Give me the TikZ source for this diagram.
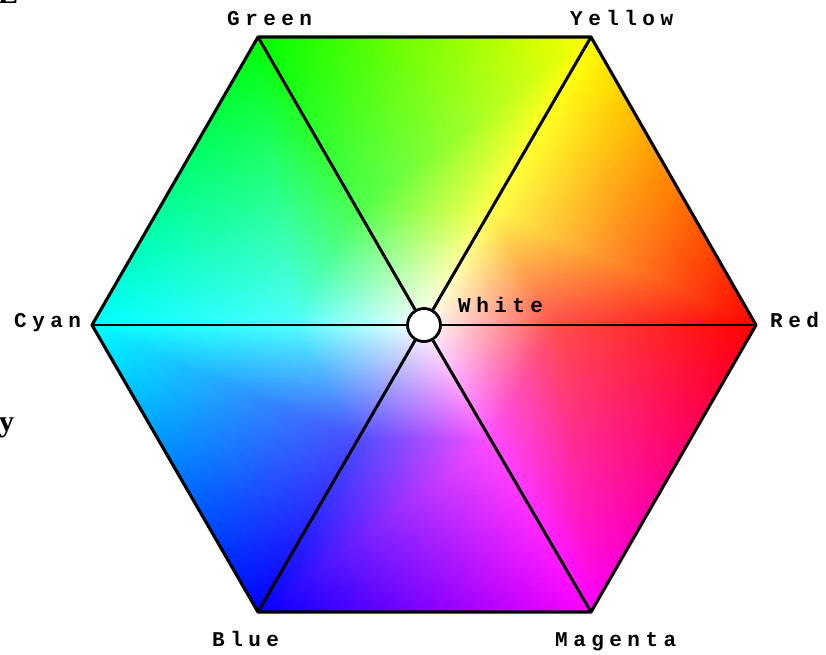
\documentclass[tikz,border=0pt]{standalone}
\usepackage{fontspec}
\usepackage{pgfplots}
\pgfplotsset{compat=1.18}
\newfontfamily\lblfont{Liberation Mono}[LetterSpace=26]
\newfontfamily\serifbold{Liberation Serif}
\tikzset{
  edge/.style={black, line width=3.1pt, line join=round, line cap=round},
  spoke/.style={black, line width=3pt},
  hspoke/.style={black, line width=2.1pt},
  lbl/.style={font=\lblfont\bfseries\fontsize{21}{21}\selectfont, inner sep=0pt, anchor=base west},
  stray/.style={font=\serifbold\bfseries\fontsize{30}{30}\selectfont, inner sep=0pt, anchor=base west},
  hub/.style={circle, draw=black, fill=white, line width=2.8pt, minimum size=33pt, inner sep=0pt}
}
\begin{document}
\begin{tikzpicture}
\useasboundingbox (0,0) rectangle (826pt,-654pt);
\begin{axis}[at={(0pt,0pt)}, anchor=north west, scale only axis,
  width=826pt, height=654pt, xmin=0, xmax=826, ymin=0, ymax=654,
  y dir=reverse, hide axis, clip=false]
\addplot[patch, shader=interp, mesh/color input=explicit] table[meta=c] {
x y c
424 325 rgb=1,1,1
357.6 209.8 rgb=0.3,1,0.3
490.8 209.8 rgb=1,1,0.3
357.6 209.8 rgb=0.3,1,0.3
258 37 rgb=0,1,0
591 37 rgb=1,1,0
357.6 209.8 rgb=0.3,1,0.3
591 37 rgb=1,1,0
490.8 209.8 rgb=1,1,0.3
424 325 rgb=1,1,1
490.8 209.8 rgb=1,1,0.3
556.8 325 rgb=1,0.3,0.3
490.8 209.8 rgb=1,1,0.3
591 37 rgb=1,1,0
756 325 rgb=1,0,0
490.8 209.8 rgb=1,1,0.3
756 325 rgb=1,0,0
556.8 325 rgb=1,0.3,0.3
424 325 rgb=1,1,1
556.8 325 rgb=1,0.3,0.3
490.8 439.8 rgb=1,0.3,1
556.8 325 rgb=1,0.3,0.3
756 325 rgb=1,0,0
591 612 rgb=1,0,1
556.8 325 rgb=1,0.3,0.3
591 612 rgb=1,0,1
490.8 439.8 rgb=1,0.3,1
424 325 rgb=1,1,1
490.8 439.8 rgb=1,0.3,1
357.6 439.8 rgb=0.3,0.3,1
490.8 439.8 rgb=1,0.3,1
591 612 rgb=1,0,1
258 612 rgb=0,0,1
490.8 439.8 rgb=1,0.3,1
258 612 rgb=0,0,1
357.6 439.8 rgb=0.3,0.3,1
424 325 rgb=1,1,1
357.6 439.8 rgb=0.3,0.3,1
291.2 325 rgb=0.3,1,1
357.6 439.8 rgb=0.3,0.3,1
258 612 rgb=0,0,1
92 325 rgb=0,1,1
357.6 439.8 rgb=0.3,0.3,1
92 325 rgb=0,1,1
291.2 325 rgb=0.3,1,1
424 325 rgb=1,1,1
291.2 325 rgb=0.3,1,1
357.6 209.8 rgb=0.3,1,0.3
291.2 325 rgb=0.3,1,1
92 325 rgb=0,1,1
258 37 rgb=0,1,0
291.2 325 rgb=0.3,1,1
258 37 rgb=0,1,0
357.6 209.8 rgb=0.3,1,0.3
};
\coordinate (G) at (258,37);
\coordinate (Y) at (591,37);
\coordinate (R) at (756,325);
\coordinate (M) at (591,612);
\coordinate (B) at (258,612);
\coordinate (C) at (92,325);
\node[hub] (W) at (424,325) {};
\draw[spoke] (G) -- (W);
\draw[spoke] (Y) -- (W);
\draw[spoke] (M) -- (W);
\draw[spoke] (B) -- (W);
\draw[hspoke] (C) -- (W);
\draw[hspoke] (R) -- (W);
\draw[edge] (G) -- (Y) -- (R) -- (M) -- (B) -- (C) -- cycle;
\node[lbl] (lG) at (227,25) {Green};
\node[lbl] (lY) at (570,25) {Yellow};
\node[lbl] (lC) at (14,327) {Cyan};
\node[lbl] (lR) at (770,327) {Red};
\node[lbl] (lW) at (458,312) {White};
\node[lbl] (lB) at (212,646) {Blue};
\node[lbl] (lM) at (555,646) {Magenta};
\node[stray] (sy) at (-1,431) {y};
\node[stray, overlay] (sL) at (-2,3) {L};
\end{axis}
\end{tikzpicture}
\end{document}
